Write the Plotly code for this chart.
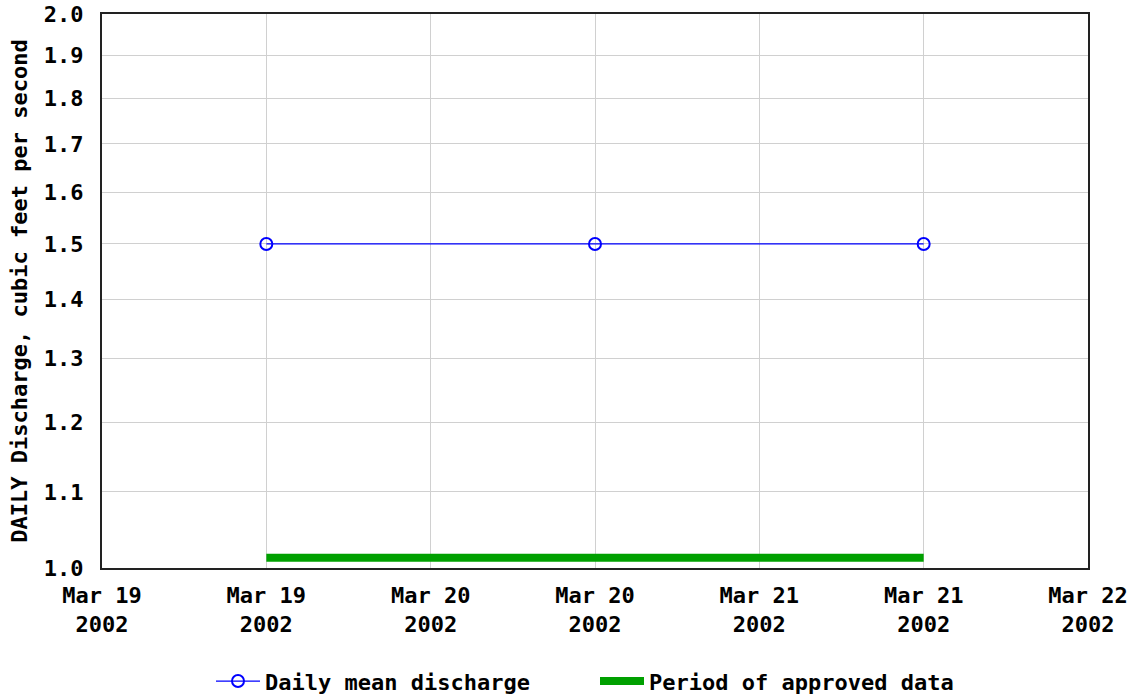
import plotly.graph_objects as go

# Daily mean discharge values (cfs), stamped at noon of each day
dates = ["2002-03-19 12:00", "2002-03-20 12:00", "2002-03-21 12:00"]
discharge = [1.5, 1.5, 1.5]

# Approved-data period bar drawn just above the axis floor
approved_dates = ["2002-03-19 12:00", "2002-03-21 12:00"]
approved_level = [1.013, 1.013]

# Axis ticks
x_tickvals = ["2002-03-19 00:00", "2002-03-19 12:00", "2002-03-20 00:00",
              "2002-03-20 12:00", "2002-03-21 00:00", "2002-03-21 12:00",
              "2002-03-22 00:00"]
x_ticktext = ["Mar 19<br>2002", "Mar 19<br>2002", "Mar 20<br>2002",
              "Mar 20<br>2002", "Mar 21<br>2002", "Mar 21<br>2002",
              "Mar 22<br>2002"]
y_tickvals = [1.0, 1.1, 1.2, 1.3, 1.4, 1.5, 1.6, 1.7, 1.8, 1.9, 2.0]
y_ticktext = ["1.0", "1.1", "1.2", "1.3", "1.4", "1.5", "1.6", "1.7", "1.8", "1.9", "2.0"]

FONT = "DejaVu Sans Mono"
FSIZE = 22

fig = go.Figure()
fig.add_trace(go.Scatter(
    x=dates, y=discharge, mode="lines+markers",
    name="Daily mean discharge",
    line=dict(color="#0000ff", width=1.3),
    marker=dict(symbol="circle-open", size=12, color="#0000ff", line=dict(width=2)),
))
fig.add_trace(go.Scatter(
    x=approved_dates, y=approved_level, mode="lines",
    name="Period of approved data",
    line=dict(color="#00a000", width=8),
))

fig.update_layout(
    width=1131, height=698,
    margin=dict(l=102, r=43, t=14, b=130),
    paper_bgcolor="white", plot_bgcolor="white",
    font=dict(family=FONT, color="black"),
    showlegend=True,
    legend=dict(
        orientation="h", x=0.5, xanchor="center",
        yref="container", y=0.024, yanchor="middle",
        font=dict(family=FONT, size=FSIZE, color="black", weight="bold"),
        itemwidth=44, entrywidth=325, entrywidthmode="pixels",
    ),
)
fig.update_xaxes(
    type="date",
    range=["2002-03-19 00:00", "2002-03-22 00:00"],
    tickmode="array", tickvals=x_tickvals, ticktext=x_ticktext,
    tickfont=dict(family=FONT, size=FSIZE, color="black", weight="bold"),
    ticks="", ticklabelstandoff=7, automargin=False,
    showgrid=True, gridcolor="#d0d0d0", gridwidth=1,
    showline=True, linecolor="#222222", linewidth=2, mirror=True,
    zeroline=False,
)
fig.update_yaxes(
    type="log",
    range=[0, 0.30103],
    tickmode="array", tickvals=y_tickvals, ticktext=y_ticktext,
    tickfont=dict(family=FONT, size=FSIZE, color="black", weight="bold"),
    ticks="", ticklabelstandoff=12, automargin=False,
    showgrid=True, gridcolor="#d0d0d0", gridwidth=1,
    showline=True, linecolor="#222222", linewidth=2, mirror=True,
    zeroline=False,
    title=dict(text="DAILY Discharge, cubic feet per second",
               font=dict(family=FONT, size=FSIZE, color="black", weight="bold"),
               standoff=10),
)

fig.write_html("out.html")
